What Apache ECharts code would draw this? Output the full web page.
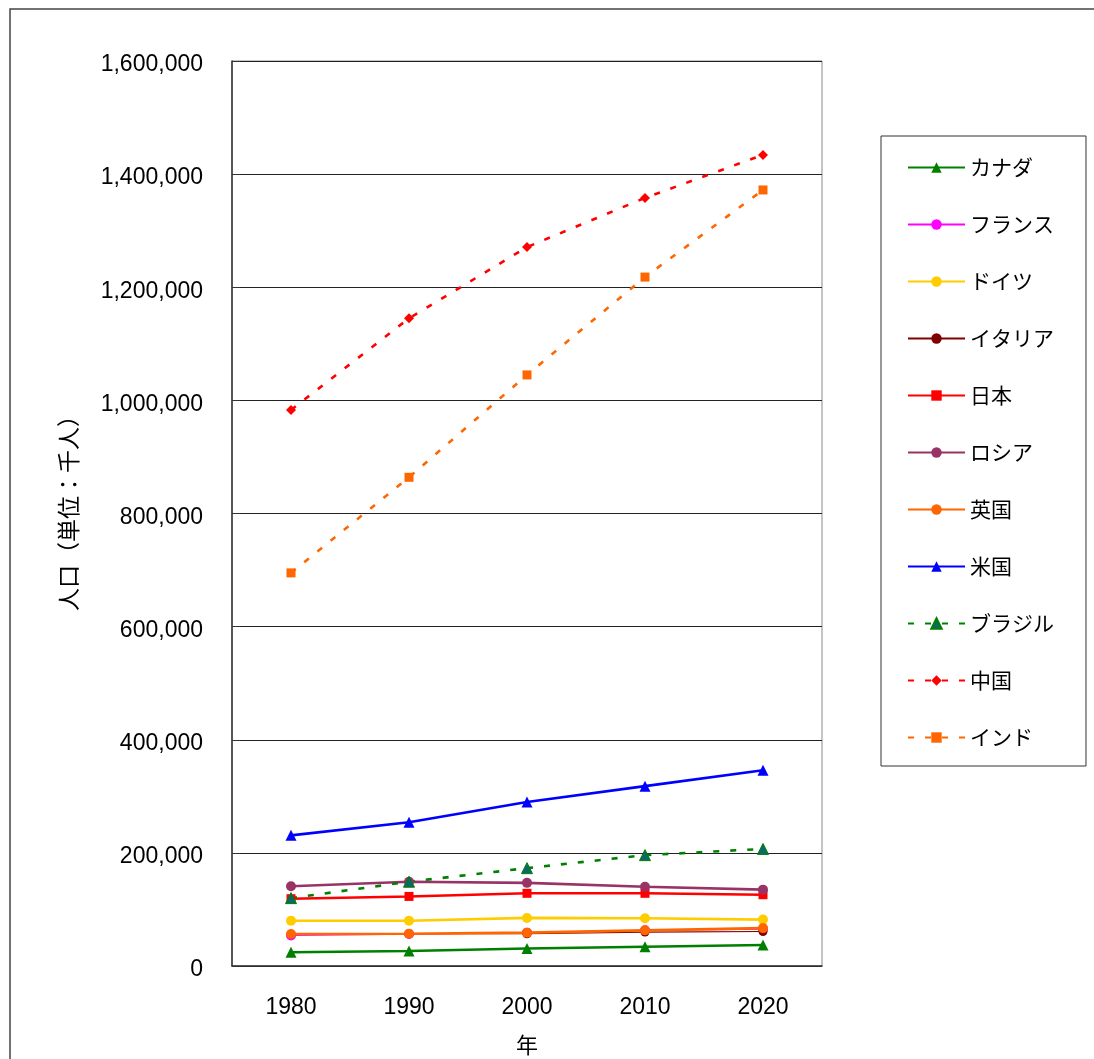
<!DOCTYPE html>
<html><head><meta charset="utf-8">
<script src="https://cdn.jsdelivr.net/npm/echarts@6/dist/echarts.min.js"></script>
<style>html,body{margin:0;padding:0;background:#fff}#c{width:1094px;height:1059px}</style>
</head><body><div id="c"></div>
<script>
const years = ['1980','1990','2000','2010','2020'];
const canada  = [24200, 26500, 31000, 34000, 37000];
const france  = [54000, 56500, 59000, 63000, 65000];
const germany = [80000, 80000, 85000, 84500, 82000];
const italy   = [56000, 57000, 57000, 60000, 61000];
const japan   = [119000, 123000, 128500, 128500, 126000];
const russia  = [141000, 149000, 147000, 140000, 135000];
const uk      = [56500, 57000, 59000, 63000, 67000];
const us      = [231000, 254000, 290000, 318000, 346000];
const brazil  = [120000, 149000, 173000, 196000, 207000];
const china   = [983000, 1145000, 1271000, 1358000, 1434000];
const india   = [695000, 864000, 1045000, 1218000, 1372000];
const names = ['カナダ','フランス','ドイツ','イタリア','日本','ロシア','英国','米国','ブラジル','中国','インド'];

const cjk = '"Noto Sans CJK JP", sans-serif';
function mk(name, data, color, symbol, size, width, dashed, fill, border) {
  return {
    name, type: 'line', data, symbol, symbolSize: size,
    lineStyle: { color, width, type: dashed ? [6, 11] : 'solid' },
    itemStyle: { color: fill || color, borderColor: border || (fill || color), borderWidth: border ? 1 : 0 },
    emphasis: { disabled: true }, animation: false
  };
}
const series = [
  mk(names[0], canada, '#008000', 'triangle', 11, 2.6),
  mk(names[1], france, '#FF00FF', 'circle', 10, 1.2),
  mk(names[2], germany, '#FFCC00', 'circle', 10, 2.6),
  mk(names[3], italy, '#800000', 'circle', 9, 1.2),
  mk(names[4], japan, '#FF0000', 'rect', 9, 2.6),
  mk(names[5], russia, '#993366', 'circle', 10, 2.6),
  mk(names[6], uk, '#FF6600', 'circle', 10, 2.6),
  mk(names[7], us, '#0000FF', 'triangle', 11, 2.6),
  mk(names[8], brazil, '#008000', 'triangle', 11, 2.6, true, '#0b6a66', '#008000'),
  mk(names[9], china, '#FF0000', 'diamond', 10, 2.6, true),
  mk(names[10], india, '#FF6600', 'rect', 9, 2.6, true)
];

const chart = echarts.init(document.getElementById('c'), null, { renderer: 'canvas' });
chart.setOption({
  backgroundColor: '#fff',
  animation: false,
  graphic: [{
    type: 'rect', shape: { x: 10, y: 9, width: 1200, height: 1200 },
    style: { fill: 'none', stroke: '#444', lineWidth: 1.5 }, silent: true, z: 0
  }],
  grid: { left: 232, top: 61, width: 590, height: 905, show: true, borderColor: '#888', borderWidth: 1,
          containLabel: false, outerBoundsMode: 'none' },
  legend: {
    orient: 'vertical', left: 881, top: 136,
    padding: [21, 32, 18, 26],
    itemWidth: 57, itemHeight: 13, itemGap: 36,
    borderColor: '#333', borderWidth: 1,
    textStyle: { fontFamily: cjk, fontSize: 21, color: '#000', lineHeight: 21 },
    data: names
  },
  xAxis: {
    type: 'category', data: years, boundaryGap: true,
    axisLine: { lineStyle: { color: '#333', width: 1.5 } },
    axisTick: { inside: true, length: 9, lineStyle: { color: '#333' } },
    axisLabel: { fontFamily: '"Liberation Sans", Arial, sans-serif', fontSize: 23, color: '#000', margin: 30 },
    name: '年', nameLocation: 'middle', nameGap: 68,
    nameTextStyle: { fontFamily: cjk, fontSize: 22, color: '#000' }
  },
  yAxis: {
    type: 'value', min: 0, max: 1600000, interval: 200000,
    axisLine: { show: true, lineStyle: { color: '#333', width: 1.5 } },
    axisTick: { show: true, inside: true, length: 8, lineStyle: { color: '#333' } },
    splitLine: { lineStyle: { color: '#222', width: 1 } },
    axisLabel: { fontFamily: '"Liberation Sans", Arial, sans-serif', fontSize: 23, color: '#000', margin: 29,
                 verticalAlign: 'top', lineHeight: 8 },
    name: '人口（単位：千人）', nameLocation: 'middle', nameGap: 152, nameRotate: 90,
    nameTextStyle: { fontFamily: cjk, fontSize: 23, color: '#000', padding: [0, 0, 0, 12] }
  },
  series
});
</script></body></html>
